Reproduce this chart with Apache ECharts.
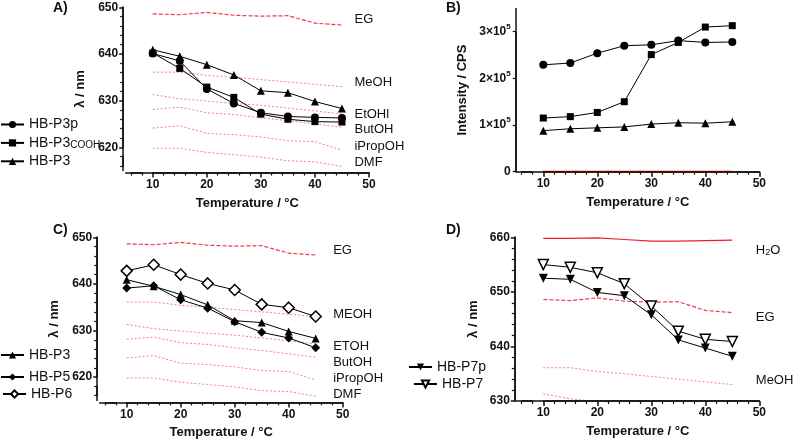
<!DOCTYPE html>
<html><head><meta charset="utf-8">
<script src="https://cdn.jsdelivr.net/npm/echarts@6/dist/echarts.min.js"></script>
<style>
html,body{margin:0;padding:0;background:#fff}
#wrap{position:relative;width:794px;height:442px}
#c,#t{position:absolute;left:0;top:0;width:794px;height:442px}
#t{pointer-events:none}
</style>
</head><body><div id="wrap"><div id="c"></div><div id="t"></div></div>
<script>
// ---- data ----
const temps = [10, 15, 20, 25, 30, 35, 40, 45];
// Panel A (emission max, nm)
const hbP3p    = [640.1, 638.5, 632.5, 629.4, 627.4, 626.6, 626.4, 626.3];
const hbP3cooh = [640.2, 636.9, 632.9, 630.7, 627.1, 626.0, 625.5, 625.4];
const hbP3     = [640.9, 639.5, 637.7, 635.5, 632.1, 631.7, 629.8, 628.3];
// Panel C
const hbP5 = [639.1, 639.6, 636.6, 634.8, 631.9, 629.6, 628.4, 626.3];
const hbP6 = [642.8, 644.1, 642.0, 640.1, 638.7, 635.6, 634.9, 633.0];
// Panel D
const hbP7p = [652.5, 652.3, 649.9, 649.3, 645.8, 641.2, 639.7, 638.2];
const hbP7  = [655.0, 654.5, 653.5, 651.5, 647.4, 642.8, 641.3, 640.9];
// Panel B (intensity, CPS)
const intP3p    = [229000, 233000, 254000, 270000, 272000, 281000, 277000, 278000];
const intP3cooh = [115000, 118000, 127000, 150000, 251000, 277000, 310000, 313000];
const intP3     = [88000, 92000, 94000, 96000, 102000, 105000, 104000, 107000];
const intBase   = [0, 0, 0, 0, 0, 0, 0, 0];
// Solvent reference lines (nm)
const solvH2O     = [659.8, 659.8, 659.9, 659.6, 659.3, 659.3, 659.4, 659.5];
const solvEG      = [648.6, 648.4, 648.9, 648.3, 648.1, 648.2, 646.6, 646.2];
const solvMeOH    = [636.1, 636.1, 635.4, 635.0, 634.5, 634.0, 633.5, 633.0];
const solvEtOH    = [631.3, 630.4, 629.9, 629.4, 629.0, 628.4, 627.8, 627.1];
const solvButOH   = [628.1, 628.6, 627.4, 627.0, 626.3, 625.7, 625.0, 624.3];
const solvIPropOH = [624.1, 624.6, 623.0, 622.7, 622.2, 621.4, 621.2, 619.4];
const solvDMF     = [619.8, 619.8, 618.9, 618.4, 617.9, 617.1, 616.9, 615.9];
// tick labels / tick positions
const xTickLabels = [10, 20, 30, 40, 50];
const xMinorTicks = [6, 8, 12, 14, 16, 18, 22, 24, 26, 28, 32, 34, 36, 38, 42, 44, 46, 48];
const yTickLabelsAC = [620, 630, 640, 650];
const yMinorTicksAC = [616, 618, 622, 624, 626, 628, 632, 634, 636, 638, 642, 644, 646, 648];
const yTickLabelsD = [630, 640, 650, 660];
const yMinorTicksD = [632, 634, 636, 638, 642, 644, 646, 648, 652, 654, 656, 658];
const yTickLabelsB = [0, 100000, 200000, 300000];
const yMinorTicksB = [];

// ---- styling / helpers ----
const FONT = 'Liberation Sans, Arial, sans-serif';
const INK = '#111';
const pairs = arr => temps.map((t, i) => [t, arr[i]]);
const span = a => ({min: a[0], max: a[a.length - 1], interval: a[1] - a[0]});

const panels = [
  {L: 125.7, T: 7.3,   W: 243.3, H: 163.3, xmin: 5, xmax: 50, ymin: 615, ymax: 650, yLab: yTickLabelsAC, yMin: yMinorTicksAC,
   xOff: 2, yOff: 2.5, yName: 'λ / nm', yGap: 36},
  {L: 516.3, T: 8.4,   W: 243,   H: 163.3, xmin: 5, xmax: 50, ymin: 0, ymax: 350000, yLab: yTickLabelsB, yMin: yMinorTicksB,
   xOff: 0, yOff: 0.6, yName: 'Intensity / CPS', yGap: 47,
   yFmt: {formatter: v => v === 0 ? '{m|0}' : '{m|' + Math.round(v / 100000) + '×10}{s|5}',
          rich: {m: {fontWeight: 'bold', fontSize: 12, color: INK, fontFamily: FONT, lineHeight: 18},
                 s: {fontWeight: 'bold', fontSize: 8, color: INK, fontFamily: FONT, lineHeight: 9, verticalAlign: 'top'}}}},
  {L: 99.7,  T: 237.3, W: 243,   H: 163.1, xmin: 5, xmax: 50, ymin: 615, ymax: 650, yLab: yTickLabelsAC, yMin: yMinorTicksAC,
   xOff: 2, yOff: 2.5, yName: 'λ / nm', yGap: 36},
  {L: 516.3, T: 237.3, W: 243,   H: 163.7, xmin: 5, xmax: 50, ymin: 630, ymax: 660, yLab: yTickLabelsD, yMin: yMinorTicksD,
   xOff: 0, yOff: 1.5, yName: 'λ / nm', yGap: 35}
];
panels.forEach(p => { p.kx = p.W / (p.xmax - p.xmin); p.ky = p.H / (p.ymax - p.ymin); });

// ================= main chart: axis lines, labels, names, series =================
const grid = [], xAxis = [], yAxis = [];
const hidden = (gi) => ({type: 'value', gridIndex: gi, show: false, min: 0, max: 1});
const mainIdx = [];
panels.forEach(p => {
  let gi = grid.length;
  grid.push({left: p.L, top: p.T, width: p.W, height: p.H});
  mainIdx.push({x: xAxis.length, y: yAxis.length});
  xAxis.push({type: 'value', gridIndex: gi, position: 'bottom', min: p.xmin, max: p.xmax, offset: p.xOff,
    axisLine: {show: true, lineStyle: {color: INK, width: 1.5}}, axisTick: {show: false}, axisLabel: {show: false},
    splitLine: {show: false}, name: 'Temperature / °C', nameLocation: 'middle', nameGap: 24,
    nameTextStyle: {color: INK, fontWeight: 'bold', fontSize: 13, fontFamily: FONT}});
  yAxis.push({type: 'value', gridIndex: gi, position: 'left', min: p.ymin, max: p.ymax, offset: p.yOff,
    axisLine: {show: true, lineStyle: {color: INK, width: 1.5}}, axisTick: {show: false}, axisLabel: {show: false},
    splitLine: {show: false}, name: p.yName, nameLocation: 'middle', nameGap: p.yGap,
    nameTextStyle: {color: INK, fontWeight: 'bold', fontSize: 13, fontFamily: FONT}});
  const xs = span(xTickLabels);
  gi = grid.length;
  grid.push({left: p.L + (xs.min - p.xmin) * p.kx, top: p.T + p.xOff, width: (xs.max - xs.min) * p.kx, height: p.H});
  xAxis.push({type: 'value', gridIndex: gi, position: 'bottom', min: xs.min, max: xs.max, interval: xs.interval,
    axisLine: {show: false}, splitLine: {show: false}, axisTick: {show: false},
    axisLabel: {show: true, color: INK, fontWeight: 'bold', fontSize: 12, fontFamily: FONT, margin: 6}});
  yAxis.push(hidden(gi));
  const ys = span(p.yLab);
  gi = grid.length;
  grid.push({left: p.L - p.yOff, top: p.T + (p.ymax - ys.max) * p.ky, width: p.W, height: (ys.max - ys.min) * p.ky});
  xAxis.push(hidden(gi));
  yAxis.push({type: 'value', gridIndex: gi, position: 'left', min: ys.min, max: ys.max, interval: ys.interval,
    axisLine: {show: false}, splitLine: {show: false}, axisTick: {show: false},
    axisLabel: Object.assign({show: true, color: INK, fontWeight: 'bold', fontSize: 12, fontFamily: FONT, margin: 5}, p.yFmt || {})});
});

const series = [];
function dataLine(pi, name, arr, symbol, size, opts) {
  const o = opts || {};
  series.push({type: 'line', name, xAxisIndex: mainIdx[pi].x, yAxisIndex: mainIdx[pi].y, data: pairs(arr),
    symbol, symbolSize: size, symbolRotate: o.rotate || 0, showSymbol: true, z: 5,
    lineStyle: {color: '#000', width: 1},
    itemStyle: o.open ? {color: '#fff', borderColor: '#000', borderWidth: 1.5} : {color: '#000', borderColor: '#000', borderWidth: 0}});
}
const SOLV = {
  EG:  {color: '#e8313a', type: [4, 2], width: 1.2, opacity: 0.95},
  H2O: {color: '#f01e28', type: 'solid', width: 1.2, opacity: 1},
  def: {color: '#f06a70', type: [2, 2], width: 1, opacity: 0.85}
};
function solvLine(pi, label, arr, style, dist, dy) {
  series.push({type: 'line', name: 's' + label + pi, xAxisIndex: mainIdx[pi].x, yAxisIndex: mainIdx[pi].y, data: pairs(arr),
    symbol: 'none', showSymbol: false, silent: true, z: 2,
    lineStyle: {color: style.color, type: style.type, width: style.width, opacity: style.opacity},
    endLabel: label ? {show: true, formatter: label, distance: dist, offset: [0, dy],
      color: INK, fontSize: 13, fontFamily: FONT,
      rich: {m: {fontSize: 13, color: INK, fontFamily: FONT, lineHeight: 14},
             sub: {fontSize: 9, color: INK, fontFamily: FONT, lineHeight: 8, verticalAlign: 'bottom'}}} : {show: false}});
}
// Panel A
solvLine(0, 'EG', solvEG, SOLV.EG, 12.5, -6);
solvLine(0, 'MeOH', solvMeOH, SOLV.def, 12.5, -4.5);
solvLine(0, 'EtOHl', solvEtOH, SOLV.def, 12.5, 0);
solvLine(0, 'ButOH', solvButOH, SOLV.def, 12.5, 2.5);
solvLine(0, 'iPropOH', solvIPropOH, SOLV.def, 12.5, -4);
solvLine(0, 'DMF', solvDMF, SOLV.def, 12.5, -4);
dataLine(0, 'HB-P3p', hbP3p, 'circle', 8);
dataLine(0, 'HB-P3COOH', hbP3cooh, 'rect', 7);
dataLine(0, 'HB-P3', hbP3, 'triangle', 8);
// Panel B
series.push({type: 'line', name: 'baseline', xAxisIndex: mainIdx[1].x, yAxisIndex: mainIdx[1].y, data: pairs(intBase),
  symbol: 'none', silent: true, z: 3, lineStyle: {color: '#ff0000', width: 2}});
dataLine(1, 'HB-P3p ', intP3p, 'circle', 8);
dataLine(1, 'HB-P3COOH ', intP3cooh, 'rect', 7);
dataLine(1, 'HB-P3 ', intP3, 'triangle', 8);
// Panel C
solvLine(2, 'EG', solvEG, SOLV.EG, 17.5, -5);
solvLine(2, 'MEOH', solvMeOH, SOLV.def, 17.5, -2);
solvLine(2, 'ETOH', solvEtOH, SOLV.def, 17.5, 2);
solvLine(2, 'ButOH', solvButOH, SOLV.def, 17.5, 5);
solvLine(2, 'iPropOH', solvIPropOH, SOLV.def, 17.5, -1.5);
solvLine(2, 'DMF', solvDMF, SOLV.def, 17.5, -2);
dataLine(2, 'HB-P3', hbP3, 'triangle', 8);
dataLine(2, 'HB-P5', hbP5, 'diamond', 9);
dataLine(2, 'HB-P6', hbP6, 'diamond', 11, {open: true});
// Panel D
solvLine(3, '{m|H}{sub|2}{m|O}', solvH2O, SOLV.H2O, 23.5, 10);
solvLine(3, 'EG', solvEG, SOLV.EG, 23.5, 4.5);
solvLine(3, 'MeOH', solvMeOH, SOLV.def, 23.5, -4);
solvLine(3, '', solvEtOH, SOLV.def, 0, 0);
dataLine(3, 'HB-P7p', hbP7p, 'triangle', 9, {rotate: 180});
dataLine(3, 'HB-P7', hbP7, 'triangle', 10, {rotate: 180, open: true});

const legText = {color: INK, fontSize: 14, fontFamily: FONT, lineHeight: 14,
  rich: {m: {fontSize: 14, color: INK, fontFamily: FONT, lineHeight: 14},
         sub: {fontSize: 10, color: INK, fontFamily: FONT, lineHeight: 8, verticalAlign: 'bottom'}}};
const legFmt = n => n === 'HB-P3COOH' ? '{m|HB-P3}{sub|COOH}' : n;
function leg(names, left, top, gap) {
  return {orient: 'vertical', left, top, data: names, itemWidth: 23, itemHeight: 9, itemGap: gap || 4.4,
    padding: 0, textStyle: legText, formatter: legFmt};
}
const legend = [
  leg(['HB-P3p', 'HB-P3COOH', 'HB-P3'], 0, 117.5),
  leg(['HB-P3'], 0, 348), leg(['HB-P5'], 0, 370), leg(['HB-P6'], 2, 387),
  leg(['HB-P7p'], 408, 360), leg(['HB-P7'], 413, 377)
];
const ttl = (t, l, tp) => ({text: t, left: l, top: tp, padding: 0,
  textStyle: {fontSize: 14, fontWeight: 'bold', color: INK, fontFamily: FONT}});

const chart = echarts.init(document.getElementById('c'));
chart.setOption({
  animation: false,
  title: [ttl('A)', 53, 1), ttl('B)', 446, 1), ttl('C)', 53, 223), ttl('D)', 446, 223)],
  grid, xAxis, yAxis, legend, series
});

// ================= tick layer: a second, minimal chart with only axes and their ticks =================
const tGrid = [], tX = [], tY = [];
const hid = gi => ({type: 'value', gridIndex: gi, show: false});
const lineSt = {show: true, lineStyle: {color: INK, width: 1.5}};
function xTicks(p, vals, minorStep) {
  const s = span(vals), gi = tGrid.length;
  tGrid.push({left: p.L + (s.min - p.xmin) * p.kx, top: p.T + p.xOff, width: (s.max - s.min) * p.kx, height: p.H});
  tX.push({type: 'value', gridIndex: gi, min: s.min, max: s.max, interval: s.interval, axisLine: lineSt,
    axisTick: {show: true, length: minorStep ? 5 : 3, lineStyle: {color: INK, width: minorStep ? 1.5 : 1.2}},
    minorTick: {show: !!minorStep, splitNumber: minorStep ? s.interval / minorStep : 5, length: 3, lineStyle: {color: INK, width: 1.2}},
    axisLabel: {show: false}, splitLine: {show: false}});
  tY.push(hid(gi));
}
function yTicks(p, vals, minorStep) {
  const s = span(vals), gi = tGrid.length;
  tGrid.push({left: p.L - p.yOff, top: p.T + (p.ymax - s.max) * p.ky, width: p.W, height: (s.max - s.min) * p.ky});
  tX.push(hid(gi));
  tY.push({type: 'value', gridIndex: gi, min: s.min, max: s.max, interval: s.interval, axisLine: lineSt,
    axisTick: {show: true, length: minorStep ? 4 : 3, lineStyle: {color: INK, width: minorStep ? 1.5 : 1.2}},
    minorTick: {show: !!minorStep, splitNumber: minorStep ? s.interval / minorStep : 5, length: 3, lineStyle: {color: INK, width: 1.2}},
    axisLabel: {show: false}, splitLine: {show: false}});
}
panels.forEach(p => {
  xTicks(p, xTickLabels, xMinorTicks[1] - xMinorTicks[0]);
  const xLow = xMinorTicks.filter(v => v < xTickLabels[0]);
  if (xLow.length > 1) xTicks(p, xLow, 0);
  const yStep = p.yMin.length > 1 ? p.yMin[1] - p.yMin[0] : 0;
  yTicks(p, p.yLab, yStep);
  const yLow = p.yMin.filter(v => v < p.yLab[0]);
  if (yLow.length > 1) yTicks(p, yLow, 0);
});
const tickChart = echarts.init(document.getElementById('t'));
tickChart.setOption({animation: false, backgroundColor: 'transparent', grid: tGrid, xAxis: tX, yAxis: tY});
</script></body></html>
